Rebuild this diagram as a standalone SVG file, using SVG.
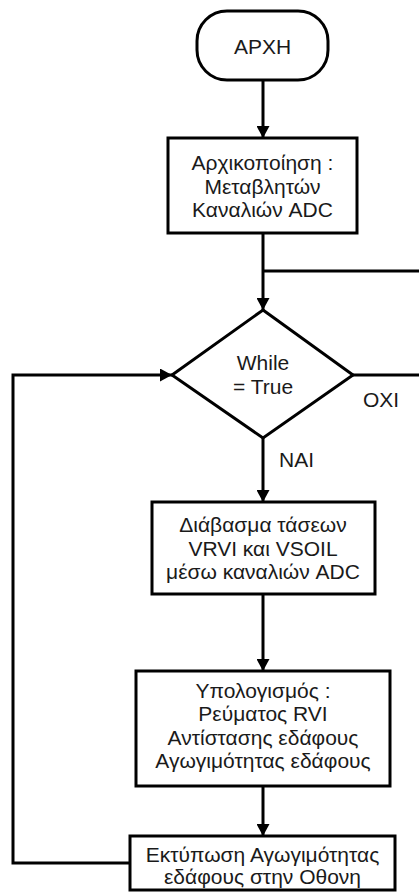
<svg xmlns="http://www.w3.org/2000/svg" width="419" height="896" viewBox="0 0 419 896">
  <style>
    .shape { fill: #ffffff; stroke: #000000; stroke-width: 3; }
    .wire { fill: none; stroke: #000000; stroke-width: 3; }
    text { font-family: "Liberation Sans", Arial, sans-serif; font-size: 21px; fill: #1a1a1a; }
    .c { text-anchor: middle; }
  </style>
  <defs>
    <marker id="arrow" viewBox="0 0 12 13" refX="12" refY="6.5" markerWidth="12" markerHeight="13" markerUnits="userSpaceOnUse" orient="auto">
      <path d="M0,0 L12,6.5 L0,13 Z" fill="#000000"/>
    </marker>
  </defs>
  <rect width="419" height="896" fill="#ffffff"/>

  <!-- connectors -->
  <g id="connectors">
    <line class="wire" x1="263" y1="80" x2="263" y2="138" marker-end="url(#arrow)"/>
    <line class="wire" x1="263" y1="233" x2="263" y2="310" marker-end="url(#arrow)"/>
    <line class="wire" x1="263" y1="271" x2="419" y2="271"/>
    <line class="wire" x1="353" y1="375" x2="419" y2="375"/>
    <line class="wire" x1="263" y1="438" x2="263" y2="502" marker-end="url(#arrow)"/>
    <line class="wire" x1="263" y1="594" x2="263" y2="671" marker-end="url(#arrow)"/>
    <line class="wire" x1="263" y1="786" x2="263" y2="836" marker-end="url(#arrow)"/>
    <polyline class="wire" points="130,863 13,863 13,375 172,375" marker-end="url(#arrow)"/>
    <text x="363" y="407">OXI</text>
    <text x="279" y="467">NAI</text>
  </g>

  <!-- start -->
  <g id="start">
    <rect class="shape" x="197" y="11" width="131" height="69" rx="30" ry="30"/>
    <text class="c" x="262.5" y="54">APXH</text>
  </g>

  <!-- initialisation -->
  <g id="init">
    <rect class="shape" x="168" y="138" width="189" height="95"/>
    <text class="c" x="262.5" y="170">Αρχικοποίηση :</text>
    <text class="c" x="262.5" y="193.5">Μεταβλητών</text>
    <text class="c" x="262.5" y="217">Καναλιών ADC</text>
  </g>

  <!-- loop condition -->
  <g id="loop">
    <polygon class="shape" points="263,310 353,375 263,438 172,375"/>
    <text class="c" x="263" y="370">While</text>
    <text class="c" x="263" y="394">= True</text>
  </g>

  <!-- read ADC channels -->
  <g id="read">
    <rect class="shape" x="152" y="502" width="223" height="92"/>
    <text class="c" x="263" y="532">Διάβασμα τάσεων</text>
    <text class="c" x="263" y="555.5">VRVI και VSOIL</text>
    <text class="c" x="263" y="579">μέσω καναλιών ADC</text>
  </g>

  <!-- calculations -->
  <g id="calc">
    <rect class="shape" x="136" y="671" width="254" height="115"/>
    <text class="c" x="263" y="697.5">Υπολογισμός :</text>
    <text class="c" x="263" y="721">Ρεύματος RVI</text>
    <text class="c" x="263" y="744.5">Αντίστασης εδάφους</text>
    <text class="c" x="263" y="768">Αγωγιμότητας εδάφους</text>
  </g>

  <!-- display -->
  <g id="display">
    <rect class="shape" x="130" y="836" width="265" height="54"/>
    <text class="c" x="262.5" y="862">Εκτύπωση Αγωγιμότητας</text>
    <text class="c" x="262.5" y="884">εδάφους στην Οθονη</text>
  </g>
</svg>
